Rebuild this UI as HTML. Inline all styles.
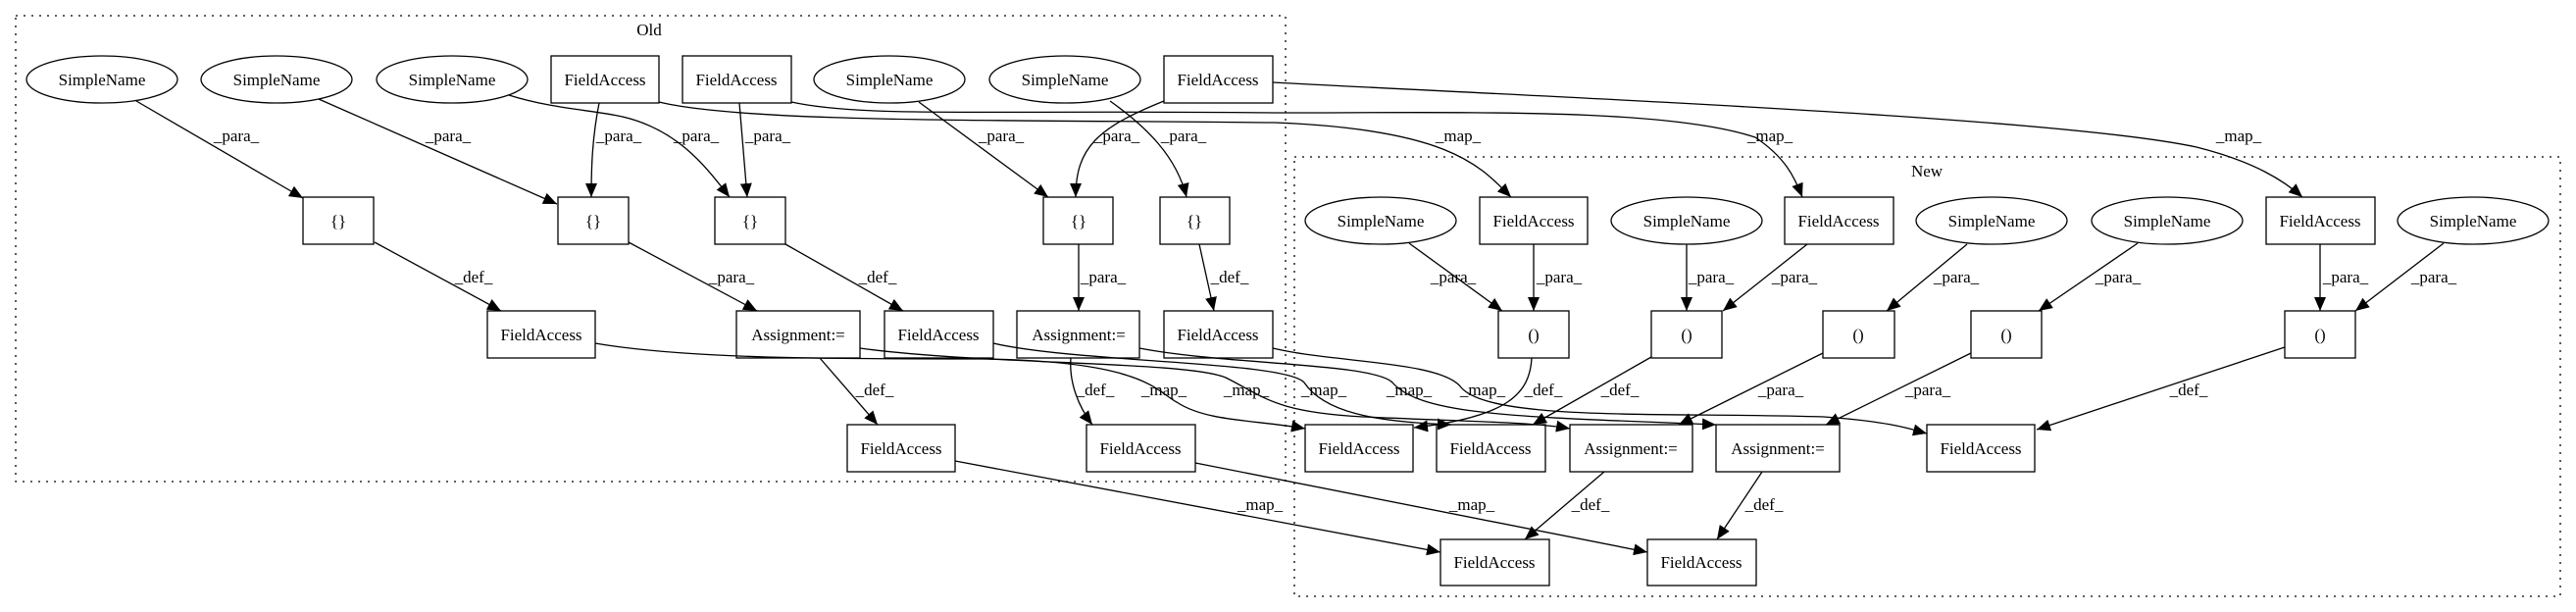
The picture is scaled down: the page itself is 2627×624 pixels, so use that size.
<!DOCTYPE html>
<html><head><meta charset="utf-8"><style>
html,body{margin:0;padding:0;background:#fff}
svg{display:block}
text{font-family:"Liberation Serif",serif;font-size:17px;fill:#000}
</style></head><body>
<svg width="2627" height="624" viewBox="0 0 2627 624" xmlns="http://www.w3.org/2000/svg">
<defs><marker id="a" markerUnits="userSpaceOnUse" markerWidth="16" markerHeight="14" refX="14" refY="6" orient="auto"><path d="M0,0 L14,6 L0,12 Z" fill="#000"/></marker></defs>
<g fill="none" stroke="#000" stroke-width="1.3" stroke-dasharray="2,6">
<rect x="16" y="16" width="1295" height="475"/>
<rect x="1320" y="160" width="1291" height="448"/>
</g>
<text x="662" y="36" text-anchor="middle">Old</text>
<text x="1965" y="180" text-anchor="middle">New</text>
<g fill="#fff" stroke="#000" stroke-width="1.3">
<ellipse cx="104" cy="81" rx="77" ry="24"/><ellipse cx="282" cy="81" rx="77" ry="24"/><ellipse cx="461" cy="81" rx="77" ry="24"/>
<rect x="562" y="57" width="110" height="48"/><rect x="696" y="57" width="111" height="48"/>
<ellipse cx="907" cy="81" rx="77" ry="24"/><ellipse cx="1086" cy="81" rx="77" ry="24"/>
<rect x="1187" y="57" width="111" height="48"/>
<rect x="309" y="201" width="72" height="48"/><rect x="569" y="201" width="72" height="48"/><rect x="729" y="201" width="72" height="48"/><rect x="1064" y="201" width="71" height="48"/><rect x="1183" y="201" width="71" height="48"/>
<rect x="497" y="317" width="110" height="48"/><rect x="751" y="317" width="126" height="48"/><rect x="902" y="317" width="111" height="48"/><rect x="1037" y="317" width="125" height="48"/><rect x="1187" y="317" width="111" height="48"/>
<rect x="864" y="433" width="110" height="48"/><rect x="1108" y="433" width="111" height="48"/>
<ellipse cx="1408" cy="225" rx="77" ry="24"/><rect x="1509" y="201" width="110" height="48"/><ellipse cx="1720" cy="225" rx="77" ry="24"/><rect x="1820" y="201" width="111" height="48"/><ellipse cx="2031" cy="225" rx="77" ry="24"/><ellipse cx="2210" cy="225" rx="77" ry="24"/><rect x="2311" y="201" width="111" height="48"/><ellipse cx="2522" cy="225" rx="77" ry="24"/>
<rect x="1528" y="317" width="72" height="48"/><rect x="1684" y="317" width="72" height="48"/><rect x="1859" y="317" width="73" height="48"/><rect x="2010" y="317" width="72" height="48"/><rect x="2330" y="317" width="72" height="48"/>
<rect x="1331" y="433" width="110" height="48"/><rect x="1465" y="433" width="111" height="48"/><rect x="1601" y="433" width="125" height="48"/><rect x="1750" y="433" width="126" height="48"/><rect x="1965" y="433" width="110" height="48"/>
<rect x="1469" y="550" width="111" height="47"/><rect x="1680" y="550" width="111" height="47"/>
</g>
<g text-anchor="middle">
<text x="104" y="87">SimpleName</text><text x="282" y="87">SimpleName</text><text x="461" y="87">SimpleName</text>
<text x="617" y="87">FieldAccess</text><text x="751" y="87">FieldAccess</text>
<text x="907" y="87">SimpleName</text><text x="1086" y="87">SimpleName</text><text x="1242" y="87">FieldAccess</text>
<text x="345" y="231">{}</text><text x="605" y="231">{}</text><text x="765" y="231">{}</text><text x="1100" y="231">{}</text><text x="1218" y="231">{}</text>
<text x="552" y="347">FieldAccess</text><text x="814" y="347">Assignment:=</text><text x="957" y="347">FieldAccess</text><text x="1100" y="347">Assignment:=</text><text x="1242" y="347">FieldAccess</text>
<text x="919" y="463">FieldAccess</text><text x="1163" y="463">FieldAccess</text>
<text x="1408" y="231">SimpleName</text><text x="1564" y="231">FieldAccess</text><text x="1720" y="231">SimpleName</text><text x="1875" y="231">FieldAccess</text><text x="2031" y="231">SimpleName</text><text x="2210" y="231">SimpleName</text><text x="2366" y="231">FieldAccess</text><text x="2522" y="231">SimpleName</text>
<text x="1564" y="347">()</text><text x="1720" y="347">()</text><text x="1895" y="347">()</text><text x="2046" y="347">()</text><text x="2366" y="347">()</text>
<text x="1386" y="463">FieldAccess</text><text x="1520" y="463">FieldAccess</text><text x="1663" y="463">Assignment:=</text><text x="1813" y="463">Assignment:=</text><text x="2020" y="463">FieldAccess</text>
<text x="1524" y="579">FieldAccess</text><text x="1735" y="579">FieldAccess</text>
</g>
<g fill="none" stroke="#000" stroke-width="1.3" marker-end="url(#a)">
<path d="M139,103 L309,202"/>
<path d="M325,101 L568,208"/>
<path d="M611,105 C604,140 603,170 603,201"/>
<path d="M519,97 C560,110 600,112 630,118 C690,130 720,170 744,201"/>
<path d="M754,105 L762,201"/>
<path d="M382,247 L511,317"/>
<path d="M641,247 L772,317"/>
<path d="M801,249 L921,317"/>
<path d="M937,104 L1069,201"/>
<path d="M1187,103 C1120,130 1097,150 1097,201"/>
<path d="M1132,103 C1170,130 1200,160 1210,201"/>
<path d="M1100,249 L1100,317"/>
<path d="M1223,249 L1238,317"/>
<path d="M836,365 L895,433"/>
<path d="M1092,365 C1090,390 1100,415 1114,433"/>
<path d="M672,104 C760,125 1000,122 1300,125 C1480,132 1510,170 1541,201"/>
<path d="M807,104 C880,120 1000,112 1300,115 C1500,115 1700,110 1790,140 C1820,160 1830,180 1838,201"/>
<path d="M1298,84 C1600,100 2100,120 2240,150 C2300,165 2330,185 2348,201"/>
<path d="M607,350 C700,366 850,366 1000,366 C1170,368 1180,400 1200,410 C1230,430 1280,428 1331,437"/>
<path d="M877,355 C1000,372 1210,368 1250,385 C1290,405 1300,420 1390,425 C1500,430 1560,430 1601,437"/>
<path d="M1013,350 C1100,370 1310,368 1330,390 C1350,420 1400,430 1480,433"/>
<path d="M1162,355 C1250,372 1400,370 1420,390 C1450,425 1560,425 1750,433"/>
<path d="M1298,355 C1360,370 1470,368 1490,395 C1520,430 1700,420 1860,425 C1930,430 1950,438 1965,442"/>
<path d="M1562,365 C1560,400 1540,425 1442,436"/>
<path d="M1684,364 L1563,433"/>
<path d="M1859,360 L1712,433"/>
<path d="M2010,360 L1862,433"/>
<path d="M2330,354 L2077,438"/>
<path d="M1636,481 L1555,550"/>
<path d="M1797,481 L1751,550"/>
<path d="M974,470 L1469,563"/>
<path d="M1219,472 L1680,563"/>
<path d="M1437,248 L1532,317"/>
<path d="M1564,249 L1564,317"/>
<path d="M1720,249 L1720,317"/>
<path d="M1843,249 L1757,317"/>
<path d="M2006,249 L1924,317"/>
<path d="M2180,248 L2079,317"/>
<path d="M2366,249 L2366,317"/>
<path d="M2492,248 L2402,317"/>
</g>
<g text-anchor="middle">
<text x="241" y="144">_para_</text><text x="457" y="144">_para_</text><text x="631" y="144">_para_</text><text x="710" y="144">_para_</text><text x="783" y="144">_para_</text>
<text x="1021" y="144">_para_</text><text x="1139" y="144">_para_</text><text x="1207" y="144">_para_</text>
<text x="1487" y="144">_map_</text><text x="1805" y="144">_map_</text><text x="2283" y="144">_map_</text>
<text x="483" y="288">_def_</text><text x="746" y="288">_para_</text><text x="895" y="288">_def_</text><text x="1125" y="288">_para_</text><text x="1254" y="288">_def_</text>
<text x="892" y="403">_def_</text><text x="1117" y="403">_def_</text>
<text x="1187" y="403">_map_</text><text x="1271" y="403">_map_</text><text x="1350" y="403">_map_</text><text x="1437" y="403">_map_</text><text x="1512" y="403">_map_</text>
<text x="1574" y="403">_def_</text><text x="1652" y="403">_def_</text><text x="1816" y="403">_para_</text><text x="1966" y="403">_para_</text><text x="2232" y="403">_def_</text>
<text x="1285" y="520">_map_</text><text x="1501" y="520">_map_</text><text x="1622" y="520">_def_</text><text x="1799" y="520">_def_</text>
<text x="1482" y="288">_para_</text><text x="1590" y="288">_para_</text><text x="1745" y="288">_para_</text><text x="1830" y="288">_para_</text><text x="1995" y="288">_para_</text><text x="2160" y="288">_para_</text><text x="2392" y="288">_para_</text><text x="2482" y="288">_para_</text>
</g>
</svg>
</body></html>
